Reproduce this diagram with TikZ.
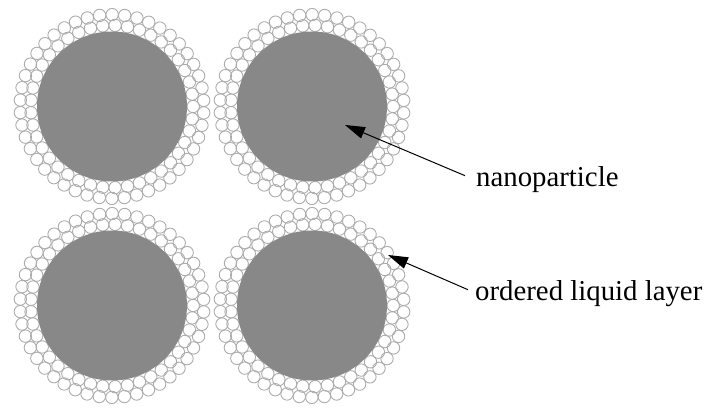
\documentclass[tikz,border=0pt]{standalone}
\usepackage{fontspec}
\setmainfont{Liberation Serif}
\usetikzlibrary{arrows.meta}
\definecolor{coregray}{RGB}{136,136,136}
\definecolor{shellgray}{RGB}{172,172,172}

\begin{document}
\begin{tikzpicture}[x=1pt,y=-1pt,
    shell/.style={draw=shellgray,line width=.9pt},
    core/.style={circle,fill=coregray,minimum size=150pt,inner sep=0pt},
    lbl/.style={font=\fontsize{28.8}{34}\selectfont,inner sep=0pt,anchor=base west},
    >={Triangle[length=20pt,width=12pt]}]
                \useasboundingbox (0,0) rectangle (705,409);
                % liquid layer, two rings round each particle
                \foreach \cx/\cy in {112/106.5, 312/106.5, 112/305.5, 312/305.5}{
                  \foreach \i in {1,...,41}
                    \draw[shell] (\cx,\cy) ++(360/41*\i:81.2) circle (6.2);
                  \foreach \i in {1,...,46}
                    \draw[shell] (\cx,\cy) ++(360/46*\i+4:91.9) circle (6.2);
                }
                \begin{scope}[every node/.style={core}]
                \node (p1) at (112,106.5) {};
                \node (p2) at (312,106.5) {};
                \node (p3) at (112,305.5) {};
                \node (p4) at (312,305.5) {};
                \end{scope}
                \coordinate (tip1) at (345,125);
                \coordinate (tip2) at (388,255);
                \node[lbl] (lbl1) at (476,187) {nanoparticle};
                \node[lbl] (lbl2) at (475,300) {ordered liquid layer};
                \begin{scope}[line width=1pt]
                \draw[->] ([xshift=-11pt,yshift=4.4pt]lbl1.west) -- (tip1);
                \draw[->] ([xshift=-7pt,yshift=3.4pt]lbl2.west) -- (tip2);
                \end{scope}
\end{tikzpicture}
\end{document}
